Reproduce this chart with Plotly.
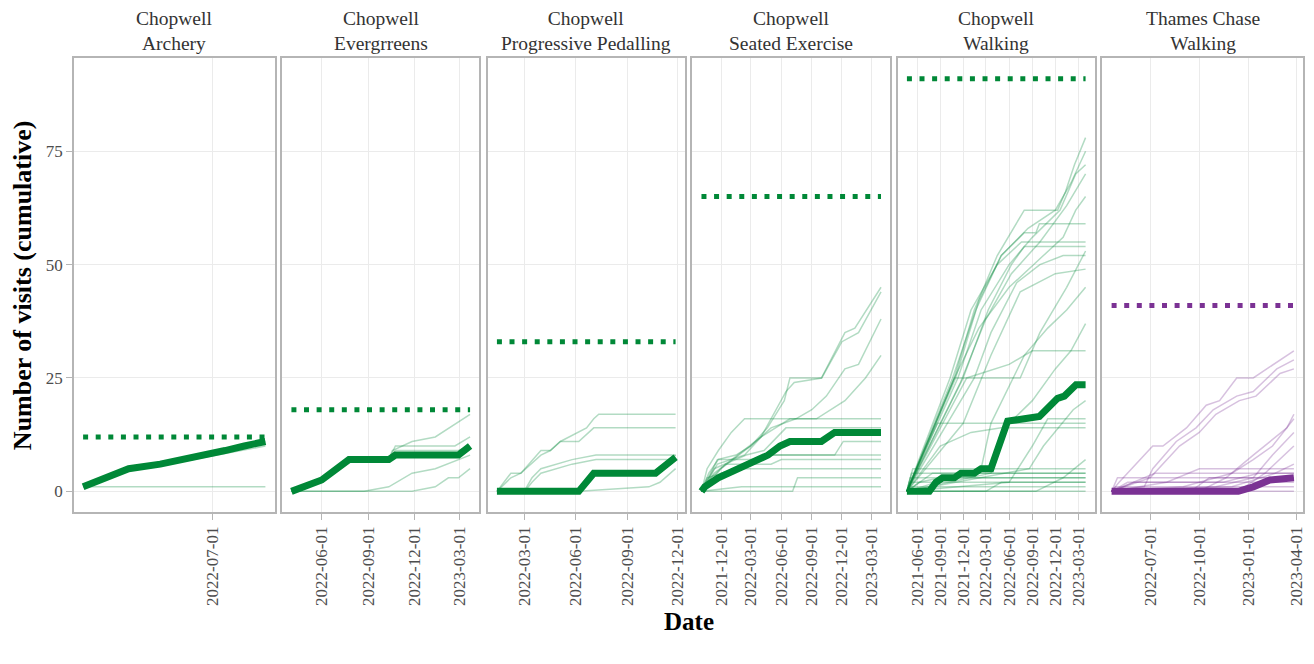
import pandas as pd
import plotly.graph_objects as go

GREEN = "#008837"
PURPLE = "#7b3294"
FONT = "Liberation Serif, Times New Roman, serif"

# ---------------- Chopwell / Archery ----------------
archery_target = 12
archery_ticks = ["2022-07-01"]
archery_median = [("2022-04-18", 1), ("2022-05-14", 5), ("2022-06-01", 6), ("2022-06-15", 7),
                  ("2022-06-27", 8), ("2022-07-08", 9), ("2022-07-19", 10), ("2022-07-31", 11)]
archery_people = [
    [("2022-04-18", 1), ("2022-07-31", 1)],
    [("2022-04-18", 1), ("2022-05-14", 5), ("2022-06-01", 6), ("2022-07-31", 11)],
    [("2022-04-18", 1), ("2022-05-16", 5), ("2022-06-05", 6), ("2022-07-31", 10)],
]

# ---------------- Chopwell / Evergrreens ----------------
evergreens_target = 18
evergreens_ticks = ["2022-06-01", "2022-09-01", "2022-12-01", "2023-03-01"]
evergreens_median = [("2022-04-02", 0), ("2022-06-01", 2.5), ("2022-07-25", 7), ("2022-10-12", 7),
                     ("2022-10-25", 8), ("2023-02-27", 8), ("2023-03-22", 10)]
evergreens_people = [
    [("2022-04-02", 0), ("2022-06-01", 2), ("2022-07-25", 7), ("2022-10-12", 7), ("2022-10-19", 9),
     ("2022-11-27", 11), ("2023-01-12", 12), ("2023-03-22", 17)],
    [("2022-04-02", 0), ("2022-06-01", 3), ("2022-07-25", 7), ("2022-10-12", 7), ("2022-10-25", 10),
     ("2023-02-20", 10), ("2023-03-22", 12)],
    [("2022-04-02", 0), ("2022-08-24", 0), ("2022-10-12", 1), ("2022-11-27", 4), ("2023-01-12", 5),
     ("2023-02-27", 7), ("2023-03-22", 8)],
    [("2022-04-02", 0), ("2022-11-27", 0), ("2023-01-12", 1), ("2023-02-07", 3), ("2023-02-27", 3),
     ("2023-03-22", 5)],
    [("2022-04-02", 0), ("2022-06-01", 2), ("2022-07-25", 7), ("2022-10-12", 7), ("2022-10-25", 9),
     ("2023-02-27", 9), ("2023-03-22", 10)],
]

# ---------------- Chopwell / Progressive Pedalling ----------------
pedalling_target = 33
pedalling_ticks = ["2022-03-01", "2022-06-01", "2022-09-01", "2022-12-01"]
pedalling_median = [("2022-01-10", 0), ("2022-06-06", 0), ("2022-07-03", 4), ("2022-10-22", 4),
                    ("2022-11-27", 7.5)]
pedalling_people = [
    [("2022-01-10", 0), ("2022-02-04", 4), ("2022-02-22", 4), ("2022-03-30", 9), ("2022-04-16", 9),
     ("2022-05-04", 11), ("2022-06-20", 14), ("2022-07-03", 16), ("2022-07-12", 17), ("2022-11-27", 17)],
    [("2022-01-10", 0), ("2022-02-04", 3), ("2022-02-22", 4), ("2022-03-30", 8), ("2022-04-16", 9),
     ("2022-05-04", 11), ("2022-06-06", 11), ("2022-07-03", 14), ("2022-11-27", 14)],
    [("2022-01-10", 0), ("2022-02-28", 0), ("2022-03-14", 3), ("2022-03-30", 5), ("2022-05-25", 7),
     ("2022-07-07", 8), ("2022-11-27", 8)],
    [("2022-01-10", 0), ("2022-03-01", 0), ("2022-03-14", 2), ("2022-03-30", 4), ("2022-05-25", 6),
     ("2022-07-07", 7), ("2022-11-27", 7)],
    [("2022-01-10", 0), ("2022-06-06", 0), ("2022-10-10", 1), ("2022-10-30", 2), ("2022-11-27", 5)],
    [("2022-01-10", 0), ("2022-06-06", 0), ("2022-07-03", 4), ("2022-10-22", 4), ("2022-11-27", 8)],
]

# ---------------- Chopwell / Seated Exercise ----------------
seated_target = 65
seated_ticks = ["2021-12-01", "2022-03-01", "2022-06-01", "2022-09-01", "2022-12-01", "2023-03-01"]
seated_median = [("2021-10-03", 0), ("2021-10-13", 1), ("2021-11-23", 3), ("2022-01-22", 5),
                 ("2022-02-21", 6), ("2022-04-22", 8), ("2022-05-28", 10), ("2022-06-27", 11),
                 ("2022-09-30", 11), ("2022-11-09", 13), ("2023-03-29", 13)]
seated_people = [
    [("2021-10-03", 0), ("2021-11-20", 7), ("2022-01-15", 8), ("2022-03-01", 10), ("2022-04-20", 14),
     ("2022-06-10", 20), ("2022-06-27", 25), ("2022-09-30", 25), ("2022-12-10", 35), ("2023-01-09", 36),
     ("2023-03-29", 45)],
    [("2021-10-03", 0), ("2021-11-20", 6), ("2022-02-10", 8), ("2022-04-01", 12), ("2022-06-15", 22),
     ("2022-07-10", 24), ("2022-10-01", 25), ("2022-12-01", 33), ("2023-01-20", 35), ("2023-03-29", 44)],
    [("2021-10-03", 0), ("2021-12-01", 5), ("2022-03-01", 10), ("2022-05-01", 14), ("2022-07-15", 16),
     ("2022-09-01", 18), ("2022-10-15", 21), ("2022-12-10", 27), ("2023-01-20", 28), ("2023-03-29", 38)],
    [("2021-10-03", 0), ("2021-11-10", 4), ("2022-01-20", 8), ("2022-04-01", 12), ("2022-06-27", 16),
     ("2022-09-15", 16), ("2022-12-10", 20), ("2023-02-10", 25), ("2023-03-29", 30)],
    [("2021-10-03", 0), ("2021-10-20", 5), ("2021-11-23", 9), ("2022-01-01", 13), ("2022-02-10", 16),
     ("2023-03-29", 16)],
    [("2021-10-03", 0), ("2021-12-01", 4), ("2022-03-01", 6), ("2022-05-01", 8), ("2022-11-09", 8),
     ("2022-12-05", 11), ("2023-03-29", 11)],
    [("2021-10-03", 0), ("2021-10-25", 4), ("2021-11-23", 7), ("2022-04-01", 7), ("2022-04-22", 8),
     ("2023-03-29", 8)],
    [("2021-10-03", 0), ("2021-11-01", 3), ("2021-12-15", 6), ("2022-05-01", 6), ("2022-06-01", 7),
     ("2023-03-29", 7)],
    [("2021-10-03", 0), ("2022-07-05", 0), ("2022-07-20", 3), ("2023-03-29", 3)],
    [("2021-10-03", 0), ("2022-02-01", 1), ("2023-03-29", 1)],
    [("2021-10-03", 0), ("2021-10-20", 3), ("2022-01-15", 5), ("2023-03-29", 5)],
    [("2021-10-03", 0), ("2021-11-10", 5), ("2022-02-15", 8), ("2022-04-10", 9), ("2022-06-15", 14),
     ("2023-03-29", 14)],
]

# ---------------- Chopwell / Walking ----------------
walking_target = 91
walking_ticks = ["2021-06-01", "2021-09-01", "2021-12-01", "2022-03-01", "2022-06-01", "2022-09-01",
                 "2022-12-01", "2023-03-01"]
walking_median = [("2021-04-22", 0), ("2021-07-20", 0), ("2021-08-15", 2), ("2021-09-10", 3),
                  ("2021-10-27", 3), ("2021-11-22", 4), ("2022-01-14", 4), ("2022-02-10", 5),
                  ("2022-03-21", 5), ("2022-05-26", 15.5), ("2022-07-31", 16), ("2022-09-29", 16.5),
                  ("2022-12-10", 20.5), ("2023-01-06", 21), ("2023-02-21", 23.5), ("2023-03-31", 23.5)]
walking_people = [
    [("2021-04-22", 0), ("2021-10-27", 25), ("2022-01-14", 40), ("2022-04-15", 52), ("2022-07-31", 62),
     ("2022-12-10", 62), ("2023-01-10", 66), ("2023-02-15", 72), ("2023-03-31", 78)],
    [("2021-04-22", 0), ("2021-10-20", 25), ("2022-01-20", 40), ("2022-05-01", 52), ("2022-08-15", 58),
     ("2022-12-01", 62), ("2023-02-01", 68), ("2023-03-31", 75)],
    [("2021-04-22", 0), ("2021-11-10", 25), ("2022-02-10", 40), ("2022-06-01", 50), ("2022-09-01", 56),
     ("2022-12-20", 62), ("2023-02-20", 70), ("2023-03-31", 72)],
    [("2021-04-22", 0), ("2021-11-20", 24), ("2022-03-01", 38), ("2022-06-10", 48), ("2022-10-01", 55),
     ("2023-01-15", 63), ("2023-03-31", 70)],
    [("2021-04-22", 0), ("2021-10-27", 25), ("2022-02-01", 36), ("2022-06-01", 45), ("2022-10-15", 52),
     ("2023-01-01", 56), ("2023-02-20", 62), ("2023-03-31", 65)],
    [("2021-04-22", 0), ("2021-11-01", 25), ("2022-02-01", 42), ("2022-05-01", 52), ("2022-07-31", 57),
     ("2022-09-15", 57), ("2022-09-29", 59), ("2023-03-31", 59)],
    [("2021-04-22", 0), ("2021-10-10", 25), ("2022-01-01", 40), ("2022-04-15", 50), ("2022-07-20", 55),
     ("2023-03-31", 55)],
    [("2021-04-22", 0), ("2021-12-01", 25), ("2022-03-10", 40), ("2022-06-10", 50), ("2022-07-31", 54),
     ("2023-03-31", 54)],
    [("2021-04-22", 0), ("2022-01-14", 25), ("2022-03-21", 35), ("2022-07-01", 46), ("2022-10-01", 50),
     ("2023-01-01", 52), ("2023-03-31", 52)],
    [("2021-04-22", 0), ("2021-12-01", 15), ("2022-03-21", 30), ("2022-07-15", 44), ("2022-12-01", 48),
     ("2023-03-31", 49)],
    [("2021-04-22", 0), ("2022-02-10", 5), ("2022-03-21", 15), ("2022-07-31", 30), ("2022-11-01", 36),
     ("2023-01-15", 40), ("2023-03-31", 45)],
    [("2021-04-22", 0), ("2022-03-21", 4), ("2022-06-01", 15), ("2022-09-01", 20), ("2022-12-01", 27),
     ("2023-02-01", 31), ("2023-03-31", 37)],
    [("2021-04-22", 0), ("2021-09-01", 14), ("2021-12-15", 25), ("2022-06-01", 28), ("2022-09-01", 31),
     ("2023-03-31", 31)],
    [("2021-04-22", 0), ("2021-10-27", 25), ("2022-07-15", 25), ("2022-10-01", 35), ("2023-01-15", 45),
     ("2023-03-31", 53)],
    [("2021-04-22", 0), ("2021-08-20", 15), ("2023-03-31", 15)],
    [("2021-04-22", 0), ("2021-09-01", 10), ("2022-01-01", 13), ("2022-05-01", 14), ("2023-03-31", 14)],
    [("2021-04-22", 0), ("2022-06-01", 2), ("2022-09-01", 10), ("2022-11-01", 16), ("2023-03-31", 16)],
    [("2021-04-22", 0), ("2022-08-20", 5), ("2022-10-15", 10), ("2023-02-10", 18), ("2023-03-31", 20)],
    [("2021-04-22", 0), ("2022-09-15", 0), ("2023-01-01", 3), ("2023-03-31", 7)],
    [("2021-04-22", 0), ("2021-05-15", 5), ("2023-03-31", 5)],
    [("2021-04-22", 0), ("2021-05-10", 4), ("2023-03-31", 4)],
    [("2021-04-22", 0), ("2021-05-05", 3), ("2023-03-31", 3)],
    [("2021-04-22", 0), ("2021-05-01", 2), ("2023-03-31", 2)],
    [("2021-04-22", 0), ("2021-04-29", 1), ("2023-03-31", 1)],
    [("2021-04-22", 0), ("2022-03-01", 0), ("2022-05-01", 2), ("2023-03-31", 2)],
    [("2021-04-22", 0), ("2021-06-10", 2), ("2021-09-01", 3), ("2023-03-31", 3)],
    [("2021-04-22", 0), ("2021-08-01", 4), ("2023-03-31", 4)],
    [("2021-04-22", 0), ("2023-03-31", 0)],
]

# ---------------- Thames Chase / Walking ----------------
thames_target = 41
thames_ticks = ["2022-07-01", "2022-10-01", "2023-01-01", "2023-04-01"]
thames_median = [("2022-04-20", 0), ("2022-12-13", 0), ("2023-01-10", 1), ("2023-02-10", 2.5),
                 ("2023-03-27", 3)]
thames_people = [
    [("2022-04-20", 0), ("2022-05-04", 2), ("2022-07-06", 10), ("2022-07-25", 10), ("2022-09-07", 14),
     ("2022-10-14", 19), ("2022-11-08", 20), ("2022-12-10", 25), ("2023-01-10", 25), ("2023-03-14", 30),
     ("2023-03-27", 31)],
    [("2022-04-20", 0), ("2022-06-20", 1), ("2022-07-06", 5), ("2022-08-19", 11), ("2022-09-25", 14),
     ("2022-10-27", 18), ("2022-12-10", 21), ("2023-01-10", 22), ("2023-02-23", 27), ("2023-03-27", 29)],
    [("2022-04-20", 0), ("2022-07-01", 3), ("2022-08-25", 10), ("2022-10-01", 13), ("2022-11-01", 17),
     ("2022-12-15", 20), ("2023-01-15", 21), ("2023-03-01", 26), ("2023-03-27", 27)],
    [("2022-04-20", 0), ("2022-10-01", 0), ("2022-11-20", 3), ("2022-12-20", 6), ("2023-01-10", 8),
     ("2023-03-14", 14), ("2023-03-27", 17)],
    [("2022-04-20", 0), ("2022-09-01", 1), ("2022-12-01", 4), ("2023-01-10", 7), ("2023-02-15", 10),
     ("2023-03-27", 16)],
    [("2022-04-20", 0), ("2022-11-01", 1), ("2023-01-10", 3), ("2023-02-15", 8), ("2023-03-27", 13)],
    [("2022-04-20", 0), ("2022-12-13", 0), ("2023-02-01", 4), ("2023-03-27", 10)],
    [("2022-04-20", 0), ("2022-05-01", 3), ("2023-03-27", 3)],
    [("2022-04-20", 0), ("2022-06-01", 2), ("2023-03-27", 2)],
    [("2022-04-20", 0), ("2022-04-27", 1), ("2023-03-27", 1)],
    [("2022-04-20", 0), ("2022-07-10", 4), ("2023-03-27", 4)],
    [("2022-04-20", 0), ("2022-08-01", 2), ("2022-10-01", 5), ("2023-03-27", 5)],
    [("2022-04-20", 0), ("2022-09-15", 0), ("2022-10-20", 3), ("2023-03-27", 3)],
    [("2022-04-20", 0), ("2023-03-27", 0)],
    [("2022-04-20", 0), ("2022-12-01", 1), ("2023-02-20", 4), ("2023-03-27", 6)],
    [("2022-04-20", 0), ("2022-05-20", 2), ("2022-11-15", 2), ("2023-01-20", 4), ("2023-03-27", 4)],
]

panels = [
    ("Chopwell<br>Archery", archery_people, archery_median, archery_target, archery_ticks, GREEN),
    ("Chopwell<br>Evergrreens", evergreens_people, evergreens_median, evergreens_target, evergreens_ticks, GREEN),
    ("Chopwell<br>Progressive Pedalling", pedalling_people, pedalling_median, pedalling_target, pedalling_ticks, GREEN),
    ("Chopwell<br>Seated Exercise", seated_people, seated_median, seated_target, seated_ticks, GREEN),
    ("Chopwell<br>Walking", walking_people, walking_median, walking_target, walking_ticks, GREEN),
    ("Thames Chase<br>Walking", thames_people, thames_median, thames_target, thames_ticks, PURPLE),
]

y_ticks = [0, 25, 50, 75]

# ---- page geometry (pixels) ----
W, H = 1314, 664
ML, MR, MT, MB = 74, 8, 58, 152
PW = W - ML - MR
PH = H - MT - MB
panel_px = [(0, 201), (209, 406), (415, 612), (620, 818), (826, 1023), (1031, 1232)]


def rgba(hex_color, a):
    h = hex_color.lstrip("#")
    r, g, b = int(h[0:2], 16), int(h[2:4], 16), int(h[4:6], 16)
    return f"rgba({r},{g},{b},{a})"


fig = go.Figure()
all_targets = [p[3] for p in panels]
y_lo = 0 - 0.05 * (max(all_targets) - 0)
y_hi = max(all_targets) + 0.05 * (max(all_targets) - 0)

axis_line = "#b5b5b5"
grid_col = "#ebebeb"
tick_font = dict(family=FONT, size=17, color="#4d4d4d")

for i, (title, people, median, target, ticks, col) in enumerate(panels):
    n = "" if i == 0 else str(i + 1)
    xa, ya = "x" + n, "y" + n

    all_dates = [pd.Timestamp(d) for s in people + [median] for d, _ in s]
    dmin, dmax = min(all_dates), max(all_dates)
    pad = (dmax - dmin) * 0.05

    for s in people:
        fig.add_trace(go.Scatter(
            x=[d for d, _ in s], y=[v for _, v in s], mode="lines",
            line=dict(color=rgba(col, 0.3), width=1.5),
            xaxis=xa, yaxis=ya, showlegend=False, hoverinfo="skip"))

    fig.add_trace(go.Scatter(
        x=[d for d, _ in median], y=[v for _, v in median], mode="lines",
        line=dict(color=col, width=7),
        xaxis=xa, yaxis=ya, showlegend=False, hoverinfo="skip"))

    fig.add_trace(go.Scatter(
        x=[dmin, dmax], y=[target, target], mode="lines",
        line=dict(color=col, width=5, dash="5px,7.6px"),
        xaxis=xa, yaxis=ya, showlegend=False, hoverinfo="skip"))

    x0, x1 = panel_px[i]
    fig.layout["xaxis" + n] = dict(
        domain=[x0 / PW, x1 / PW], anchor=ya, type="date",
        range=[str(dmin - pad), str(dmax + pad)],
        tickvals=ticks, ticktext=ticks, tickangle=-90,
        showgrid=True, gridcolor=grid_col, gridwidth=1, zeroline=False,
        showline=True, mirror=True, linecolor=axis_line, linewidth=1.6,
        ticks="outside", ticklen=6, tickwidth=1.2, tickcolor=axis_line,
        tickfont=tick_font)
    fig.layout["yaxis" + n] = dict(
        domain=[0, 1], anchor=xa, range=[y_lo, y_hi],
        tickvals=y_ticks, showticklabels=(i == 0),
        ticks="outside" if i == 0 else "", ticklen=6, tickwidth=1.2, tickcolor=axis_line,
        showgrid=True, gridcolor=grid_col, gridwidth=1, zeroline=False,
        showline=True, mirror=True, linecolor=axis_line, linewidth=1.6,
        tickfont=tick_font)

    fig.add_annotation(
        text=title, x=(x0 + x1) / 2 / PW, y=1 + (MT - 31) / PH,
        xref="paper", yref="paper", xanchor="center", yanchor="middle",
        showarrow=False, font=dict(family=FONT, size=19.5, color="#333333"))

fig.add_annotation(
    text="<b>Number of visits (cumulative)</b>", x=(22 - ML) / PW, y=0.5,
    xref="paper", yref="paper", xanchor="center", yanchor="middle", textangle=-90,
    showarrow=False, font=dict(family=FONT, size=26, color="#000000"))
fig.add_annotation(
    text="<b>Date</b>", x=0.5, y=-(621 - (MT + PH)) / PH,
    xref="paper", yref="paper", xanchor="center", yanchor="middle",
    showarrow=False, font=dict(family=FONT, size=25, color="#000000"))

fig.update_layout(
    width=W, height=H, margin=dict(l=ML, r=MR, t=MT, b=MB, pad=0),
    paper_bgcolor="white", plot_bgcolor="white", hovermode=False,
)

fig.write_html("out.html")
